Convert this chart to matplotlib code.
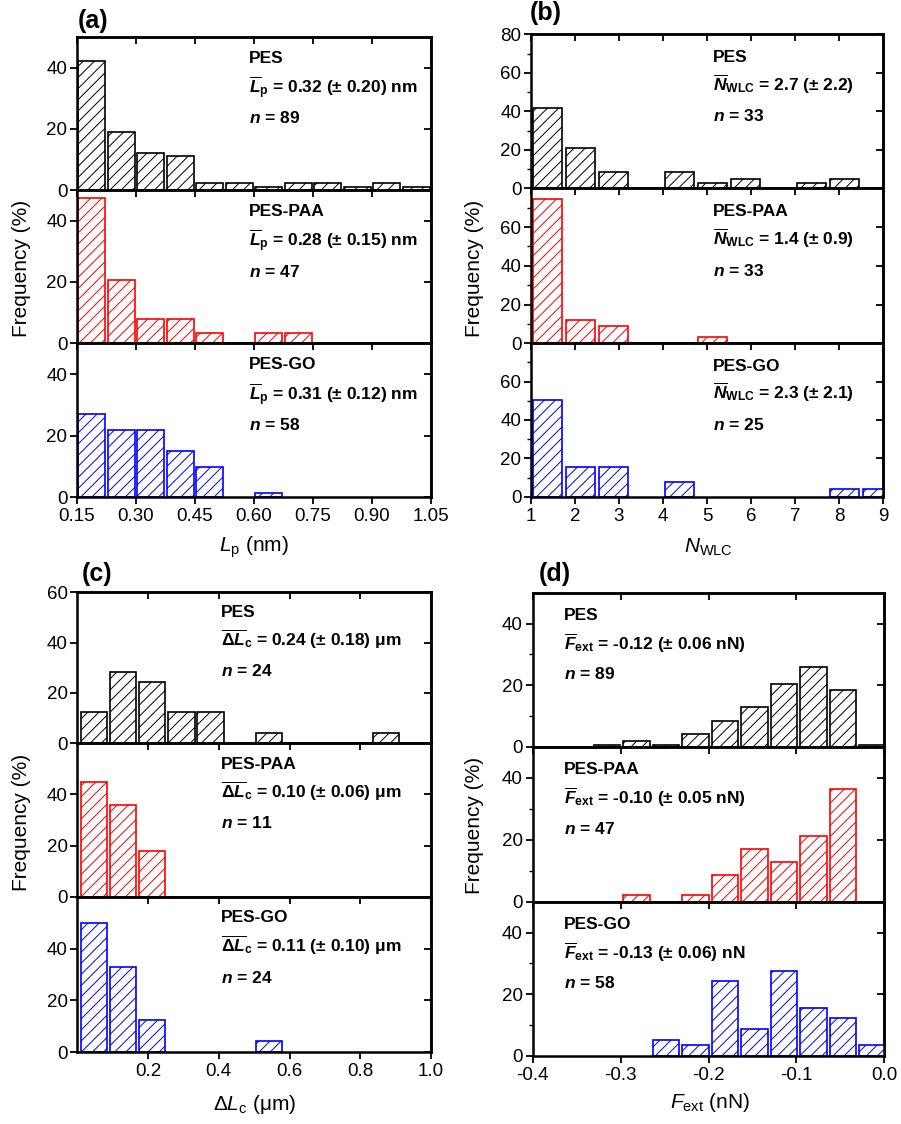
import numpy as np
import matplotlib
matplotlib.use("Agg")
import matplotlib.pyplot as plt

plt.rcParams["font.family"] = ["Liberation Sans", "DejaVu Sans"]
plt.rcParams["mathtext.fontset"] = "custom"
plt.rcParams["mathtext.rm"] = "Liberation Sans"
plt.rcParams["mathtext.it"] = "Liberation Sans:italic"
plt.rcParams["mathtext.bf"] = "Liberation Sans:bold"
plt.rcParams["mathtext.bfit"] = "Liberation Sans:italic:bold"
plt.rcParams["axes.unicode_minus"] = False
plt.rcParams["hatch.linewidth"] = 0.7

W, H = 901, 1124

# ---- data (frequency in %) ----
groups = ["PES", "PES-PAA", "PES-GO"]
colors = ["black", "#ff0000", "#0000ff"]

# (a) persistence length Lp, bins of 0.075 nm starting at 0.15
a_start, a_bin = 0.15, 0.075
a_pes = [42, 19, 12, 11, 2.2, 2.2, 1.1, 2.2, 2.2, 1.1, 2.2, 1.1]
a_paa = [47.3, 20.6, 8, 8, 3.5, 0, 3.5, 3.5]
a_go = [27.2, 22, 22, 15, 10, 0, 1.3]
a_mean = ["0.32 (± 0.20) nm", "0.28 (± 0.15) nm", "0.31 (± 0.12) nm"]
a_n = [89, 47, 58]

# (b) number of WLC events, bins of 0.75 starting at 1
b_start, b_bin = 1.0, 0.75
b_pes = [41.7, 20.7, 8.3, 0, 8.3, 2.8, 5.0, 0, 2.8, 5.0]
b_paa = [74.3, 11.8, 8.7, 0, 0, 3.3]
b_go = [50.3, 15.6, 15.6, 0, 7.8, 0, 0, 0, 0, 3.8, 3.8]
b_mean = ["2.7 (± 2.2)", "1.4 (± 0.9)", "2.3 (± 2.1)"]
b_n = [33, 33, 25]

# (c) contour length increment dLc (um)
c_start, c_bin = 0.0055, 0.0825
c_pes = [12.5, 28.5, 24.5, 12.5, 12.5, 0, 4.2, 0, 0, 0, 4.2]
c_paa = [45, 36, 18]
c_go = [50, 33, 12.5, 0, 0, 0, 4.2]
c_mean = ["0.24 (± 0.18) μm", "0.10 (± 0.06) μm", "0.11 (± 0.10) μm"]
c_n = [24, 11, 24]

# (d) extension force Fext (nN)
d_start, d_bin = -0.332, 0.0335
d_pes = [0.6, 1.7, 0.6, 4.1, 8.5, 13.0, 20.4, 26.0, 18.5, 0.5]
d_paa = [0, 2.1, 0, 2.1, 8.5, 17.0, 12.8, 21.3, 36.2, 0]
d_go = [0, 0, 5.2, 3.4, 24.1, 8.6, 27.6, 15.5, 12.1, 3.4]
d_mean = ["-0.12 (± 0.06 nN)", "-0.10 (± 0.05 nN)", "-0.13 (± 0.06) nN"]
d_n = [89, 47, 58]


def px_rect(left, right, top, bottom):
    return [left / W, 1 - bottom / H, (right - left) / W, (bottom - top) / H]


def draw_panel(fig, left, right, ys, start, binw, series, xlim, xticks, xfmt,
               ylim, yticks_top, yticks, yminor, symbol, means, ns, tx, ty):
    axes = []
    for i, (vals, col) in enumerate(zip(series, colors)):
        ax = fig.add_axes(px_rect(left, right, ys[i], ys[i + 1]))
        vals = np.asarray(vals, dtype=float)
        centers = start + binw * (np.arange(len(vals)) + 0.5)
        keep = vals > 0
        ax.bar(centers[keep], vals[keep], width=binw * 0.9, facecolor="white",
               edgecolor=col, hatch="///", linewidth=1.2)
        ax.set_xlim(*xlim)
        ax.set_ylim(*ylim)
        ax.set_xticks(xticks)
        ax.set_xticklabels([xfmt % t for t in xticks])
        yt = yticks_top if i == 0 else yticks
        ax.set_yticks(yt)
        if yminor:
            ax.set_yticks(yminor, minor=True)
        for s in ax.spines.values():
            s.set_linewidth(1.8)
        ax.tick_params(axis="y", which="major", direction="out", length=5,
                       width=1.3, labelsize=13.5, pad=2)
        ax.tick_params(axis="y", which="minor", direction="out", length=3,
                       width=1.0)
        ax.tick_params(axis="x", direction="out", length=5, width=1.3,
                       labelsize=13.5, labelbottom=(i == 2), pad=3)
        top = ax.secondary_xaxis("top")
        top.set_xticks(xticks)
        top.tick_params(direction="in", length=5, width=1.3, labeltop=False)
        top.spines["top"].set_linewidth(1.8)
        rt = ax.secondary_yaxis("right")
        rt.set_yticks(yt)
        rt.tick_params(direction="in", length=5, width=1.3, labelright=False)
        rt.spines["right"].set_linewidth(1.8)

        ax.text(tx, ty[0], groups[i], transform=ax.transAxes,
                fontsize=12.5, fontweight="bold", va="baseline")
        ax.text(tx, ty[1], symbol + " = " + means[i], transform=ax.transAxes,
                fontsize=12.5, fontweight="bold", va="baseline")
        ax.text(tx, ty[2], r"$\mathbfit{n}$ = %d" % ns[i],
                transform=ax.transAxes, fontsize=12.5, fontweight="bold",
                va="baseline")
        axes.append(ax)
    return axes


fig = plt.figure(figsize=(W / 100, H / 100), dpi=100)

draw_panel(fig, 77, 431, [37, 190, 343.3, 497.3], a_start, a_bin,
           [a_pes, a_paa, a_go], (0.15, 1.05), np.arange(0.15, 1.06, 0.15),
           "%.2f", (0, 50), [0, 20, 40], [0, 20, 40], None,
           r"$\overline{\mathbfit{L}}_\mathbf{p}$", a_mean, a_n,
           0.486, (0.83, 0.63, 0.435))

draw_panel(fig, 531, 883, [34.3, 188.3, 343.3, 496.7], b_start, b_bin,
           [b_pes, b_paa, b_go], (1, 9), np.arange(1, 10), "%d",
           (0, 80), [0, 20, 40, 60, 80], [0, 20, 40, 60], [10, 30, 50, 70],
           r"$\overline{\mathbfit{N}}_\mathbf{WLC}$", b_mean, b_n,
           0.518, (0.82, 0.635, 0.435))

draw_panel(fig, 77.3, 431, [592.3, 743.3, 896.7, 1052.3], c_start, c_bin,
           [c_pes, c_paa, c_go], (0, 1), [0.2, 0.4, 0.6, 0.8, 1.0], "%.1f",
           (0, 60), [0, 20, 40, 60], [0, 20, 40], None,
           r"$\overline{\mathbf{\Delta}\mathbfit{L}}_\mathbf{c}$", c_mean, c_n,
           0.405, (0.835, 0.645, 0.445))

draw_panel(fig, 532.7, 884.3, [592.7, 746.7, 901.7, 1055.7], d_start, d_bin,
           [d_pes, d_paa, d_go], (-0.4, 0), [-0.4, -0.3, -0.2, -0.1, 0.0],
           "%.1f", (0, 50), [0, 20, 40], [0, 20, 40], [10, 30],
           r"$\overline{\mathbfit{F}}_\mathbf{ext}$", d_mean, d_n,
           0.09, (0.825, 0.63, 0.44))

# panel letters
for lab, x, y in [("(a)", 78, 21), ("(b)", 530, 13), ("(c)", 82, 574), ("(d)", 539, 574)]:
    fig.text(x / W, 1 - y / H, lab, fontsize=18, fontweight="bold",
             ha="left", va="center")

# y labels
for x, y in [(22, 268), (475, 268), (22, 822), (475, 825)]:
    fig.text(x / W, 1 - y / H, "Frequency (%)", rotation=90, fontsize=15,
             ha="center", va="center")

# x labels
for lab, x, y in [(r"$L_\mathrm{p}$ (nm)", 254, 547),
                  (r"$N_\mathrm{WLC}$", 708, 547),
                  (r"Δ$L_\mathrm{c}$ (μm)", 255, 1105),
                  (r"$F_\mathrm{ext}$ (nN)", 710, 1103)]:
    fig.text(x / W, 1 - y / H, lab, fontsize=15, ha="center", va="center")

fig.savefig("out.png", dpi=100)
